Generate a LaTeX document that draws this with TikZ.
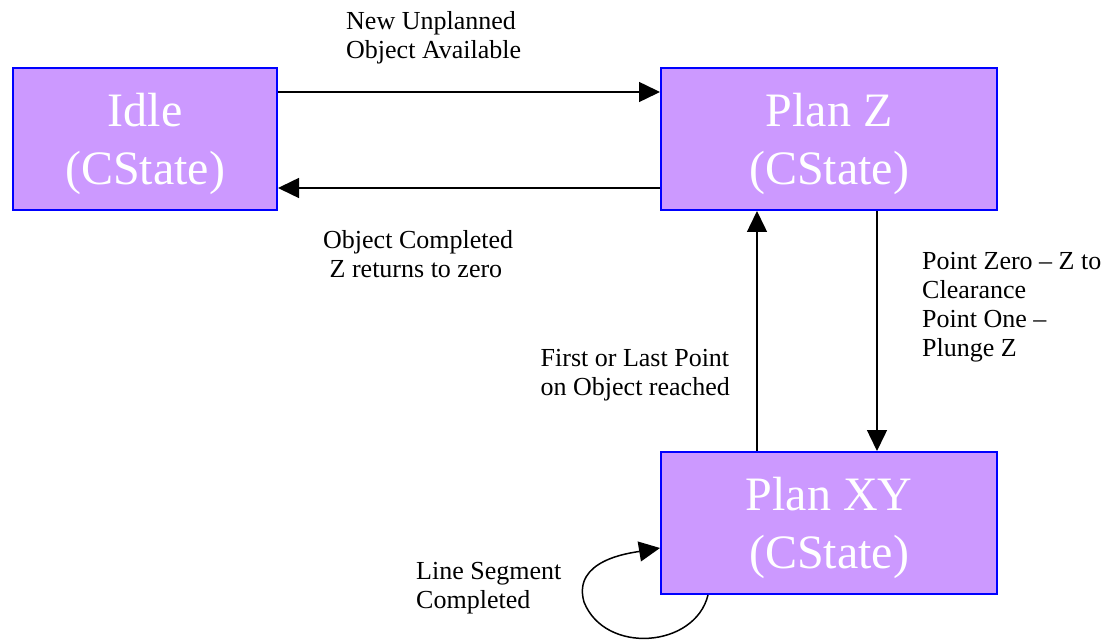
\documentclass[tikz,border=0pt]{standalone}
\usepackage{fontspec}
\setmainfont{Liberation Serif}
\usepackage{tikz}
\usetikzlibrary{arrows.meta, positioning, calc}
\definecolor{lilas}{RGB}{204,153,255}
\definecolor{azul}{RGB}{0,0,255}

\begin{document}
\begin{tikzpicture}[x=1pt, y=-1pt,
    estado/.style={draw=azul, line width=2pt, fill=lilas, text=white, align=center, inner sep=0pt, font=\fontsize{48}{58}\selectfont},
    rotulo/.style={inner sep=0pt, font=\fontsize{26}{29}\selectfont},
    seta/.style={-{Triangle[length=21pt, width=20pt]}, line width=1.5pt, black}
  ]
    \useasboundingbox (0,0) rectangle (1117,644);

    \node[estado, minimum width=264pt, minimum height=142pt] (idle) at (145,139) {\rule{0pt}{44pt}Idle\\(CState)};
    \node[estado, minimum width=336pt, minimum height=142pt] (planz) at (829,139) {\rule{0pt}{44pt}Plan Z\\(CState)};
    \node[estado, minimum width=336pt, minimum height=142pt] (planxy) at (829,523) {\rule{0pt}{44pt}Plan XY\\(CState)};

    \draw[seta] ([yshift=47pt]idle.east) -- ([yshift=47pt]idle.east -| planz.west);
    \draw[seta] ([yshift=-49pt]planz.west) -- ([yshift=-49pt]planz.west -| idle.east);
    \draw[seta] ([xshift=-72pt]planxy.north) -- ([xshift=-72pt]planz.south);
    \draw[seta] ([xshift=48pt]planz.south) -- ([xshift=48pt]planxy.north);
    \draw[seta] ([xshift=-121pt]planxy.south) .. controls (695,648) and (605,655) .. (584,602)
        .. controls (572,560) and (630,553) .. ([yshift=-25pt]planxy.west);

    \node[rotulo, anchor=north west, align=left] (novo) at (346,11) {New Unplanned\\Object Available};
    \node[rotulo, anchor=north west, align=left] (completo) at (323,230) {Object Completed\\\hspace{0.25em}Z returns to zero};
    \node[rotulo, anchor=north west, align=left] (pontozero) at (922,252) {Point Zero -- Z to\\Clearance\\Point One --\\Plunge Z};
    \node[rotulo, anchor=north east, align=left] (primeiro) at (730,349) {First or Last Point\\on Object reached};
    \node[rotulo, anchor=north west, align=left] (segmento) at (416,562) {Line Segment\\Completed};
  \end{tikzpicture}
\end{document}
